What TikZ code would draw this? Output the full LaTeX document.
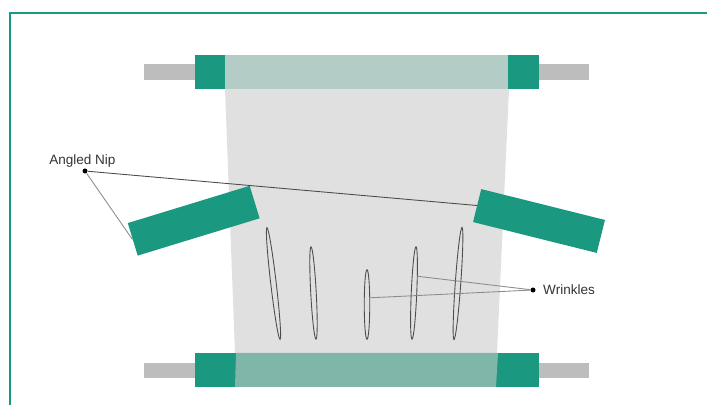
\documentclass[tikz,border=0pt]{standalone}
\usepackage{fontspec}
\setmainfont{Liberation Sans}
\usetikzlibrary{positioning, shapes.geometric}
\definecolor{nipgreen}{HTML}{1A9880}
\definecolor{shaftgray}{HTML}{BDBDBD}
\definecolor{webgray}{HTML}{E0E0E0}
\definecolor{toproll}{HTML}{B3CCC6}
\definecolor{botroll}{HTML}{80B5A9}
\tikzset{
    shaft/.style={fill=shaftgray},
    collar/.style={fill=nipgreen},
    nip/.style={fill=nipgreen, minimum width=2.55cm, minimum height=0.68cm, inner sep=0pt},
    leader/.style={line width=0.5pt, draw=black!45},
    wrinkle/.style={ellipse, draw=black!70, line width=0.5pt, inner sep=0pt, minimum width=0.11cm},
    tipdot/.style={circle, fill=black, inner sep=0pt, minimum size=0.1cm},
    callout/.style={font=\fontsize{7.7}{9}\selectfont, text=black!80, inner sep=0pt},
}
\begin{document}
\begin{tikzpicture}[x=0.02cm, y=-0.02cm]
    \useasboundingbox (0,0) rectangle (707,405);
    % frame
    \draw[nipgreen, line width=0.75pt] (10,405) -- (10,13) -- (707,13);

    % web
    \fill[webgray] (225,89) -- (509,89) -- (497,353) -- (235,353) -- cycle;

    % top roller
    \fill[shaft] (144,64) rectangle (589,80);
    \fill[collar] (195,55) rectangle (539,89);
    \fill[toproll] (225,55) rectangle (508,89);

    % bottom roller
    \fill[shaft] (144,363) rectangle (589,378);
    \fill[collar] (195,353) rectangle (539,387);
    \fill[botroll] (236,353) -- (498,353) -- (496,387) -- (235,387) -- cycle;

    % angled nips
    \node[nip, rotate=17] (nipL) at (193.7,220.7) {};
    \node[nip, rotate=-14] (nipR) at (539,221) {};

    % wrinkles
    \foreach \wname/\wx/\wy/\wlen/\wrot in {w1/273.5/283.5/2.25/6.7, w2/313.5/293/1.85/3.1, w3/367/304.5/1.39/0, w4/414/293/1.85/-2.5, w5/458/283.5/2.25/-4.1}
        \node[wrinkle, minimum height=\wlen cm, rotate=\wrot] (\wname) at (\wx,\wy) {};

    % labels
    \node[tipdot] (dotN) at (85,171) {};
    \node[callout, above=0.5pt of dotN, xshift=-1.5pt] (labN) {Angled Nip};
    \node[tipdot] (dotW) at (533,290) {};
    \node[callout, right=4pt of dotW] (labW) {Wrinkles};

    % leaders
    \draw[leader] (dotN) -- (nipL.west);
    \draw[leader, draw=black!70] (dotN) -- (nipR.west);
    \draw[leader] (dotW) -- (w3.65);
    \draw[leader] (dotW) -- (w4.80);
\end{tikzpicture}
\end{document}
